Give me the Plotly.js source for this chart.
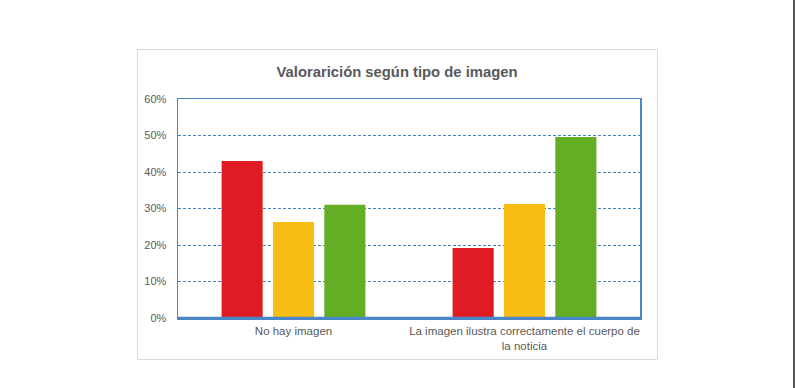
<!DOCTYPE html>
<html>
<head>
<meta charset="utf-8">
<script src="https://cdn.plot.ly/plotly-3.0.1.min.js"></script>
<style>
html,body{margin:0;padding:0;background:#fff;}
#wrap{position:relative;width:795px;height:388px;}
#chart{width:795px;height:388px;}
#edge{position:absolute;left:793px;top:0;width:2px;height:388px;background:#555;}
</style>
</head>
<body>
<div id="wrap"><div id="chart"></div><div id="edge"></div></div>
<script>
const categories = ["No hay imagen", "La imagen ilustra correctamente el cuerpo de<br>la noticia"];
const seriesNames = ["Serie 1", "Serie 2", "Serie 3"];
const serie1 = [0.43, 0.192];
const serie2 = [0.263, 0.312];
const serie3 = [0.31, 0.496];
const colors = ["#e01b24", "#f8bd12", "#63ae25"];
const yTicks = [0, 0.1, 0.2, 0.3, 0.4, 0.5, 0.6];
const yTickLabels = ["0%", "10%", "20%", "30%", "40%", "50%", "60%"];

const values = [serie1, serie2, serie3];
const traces = values.map((v, i) => ({
  type: "bar",
  name: seriesNames[i],
  x: categories,
  y: v,
  marker: {color: colors[i]},
  hoverinfo: "y"
}));

const W = 795, H = 388;
const L = 178, R = 640, T = 99, B = 318;
const pw = R - L, ph = B - T;
const px = x => (x - L) / pw;
const py = y => (B - y) / ph;

const layout = {
  width: W, height: H,
  margin: {l: L, r: W - R, t: T, b: H - B, pad: 0},
  paper_bgcolor: "#ffffff",
  plot_bgcolor: "#ffffff",
  showlegend: false,
  barmode: "group",
  bargap: 0.333,
  bargroupgap: 0.2,
  title: {
    text: "<b>Valorarición según tipo de imagen</b>",
    font: {family: "Liberation Sans, Arial, sans-serif", size: 14.8, color: "#595959"},
    x: px(397), xref: "paper", xanchor: "center",
    y: 1 - 72 / H, yref: "container", yanchor: "middle"
  },
  font: {family: "Liberation Sans, Arial, sans-serif", color: "#595959", size: 11},
  xaxis: {
    type: "category",
    showline: true, mirror: true, linecolor: "#4a86c8", linewidth: 1.5,
    showgrid: false, ticks: "", zeroline: false,
    tickfont: {size: 11.5, color: "#595959"},
    ticklabelstandoff: 2,
    fixedrange: true
  },
  yaxis: {
    range: [0, 0.6],
    tickvals: yTicks, ticktext: yTickLabels,
    showline: true, mirror: true, linecolor: "#4a86c8", linewidth: 1.5,
    showgrid: true, gridcolor: "#3f7fc4", gridwidth: 1, griddash: "3px,2px",
    zeroline: false,
    ticks: "", ticklabelstandoff: 8,
    tickfont: {size: 11, color: "#595959"},
    fixedrange: true
  },
  shapes: [
    {type: "rect", xref: "paper", yref: "paper",
     x0: px(137.5), x1: px(657.5), y0: py(359.5), y1: py(49.5),
     line: {color: "#d9d9d9", width: 1}, fillcolor: "rgba(0,0,0,0)", layer: "below"},
    {type: "line", xref: "paper", yref: "paper",
     x0: 0, x1: 1, y0: 0, y1: 0,
     line: {color: "#4a86c8", width: 2.5}}
  ]
};

Plotly.newPlot("chart", traces, layout, {displayModeBar: false, staticPlot: true});
</script>
</body>
</html>
